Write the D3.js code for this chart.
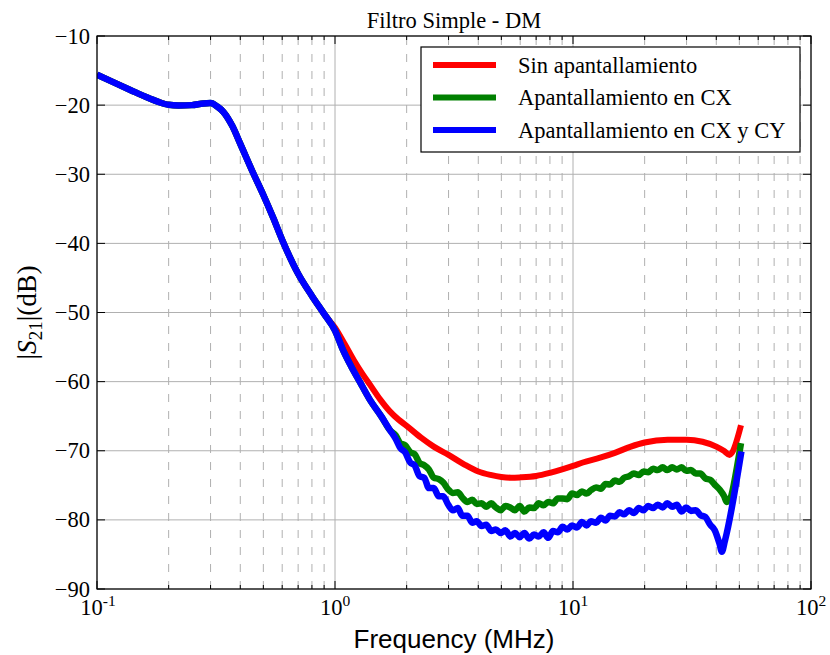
<!DOCTYPE html>
<html>
<head>
<meta charset="utf-8">
<script src="https://cdn.jsdelivr.net/npm/d3@7"></script>
<style>
  html, body { margin: 0; padding: 0; background: #fff; }
  svg { display: block; }
</style>
</head>
<body>
<div id="chart"></div>
<script>
// Measured |S21| of the simple DM filter, in MHz and dB.
// Low-frequency part shared by the three measurements.
const lowFreq = [0.1, 0.12, 0.138, 0.16, 0.18, 0.2, 0.22, 0.25, 0.28, 0.3, 0.32, 0.34, 0.37, 0.4, 0.45, 0.5, 0.55, 0.6, 0.7, 0.8, 0.9];
const lowDb   = [-15.6, -16.85, -17.8, -18.8, -19.5, -19.95, -20.05, -20.0, -19.75, -19.7, -20.2, -21.0, -23.0, -25.6, -29.6, -33.0, -36.3, -39.5, -44.4, -47.6, -50.2];

// Without shielding
const redFreq = [1.0, 1.1, 1.2, 1.3, 1.4, 1.55, 1.7, 1.85, 2.0, 2.3, 2.6, 3.0, 3.5, 4.0, 4.5, 5.0, 5.5, 6.0, 7.0, 8.0, 9.0, 10, 11, 13, 15, 17.5, 20, 25, 30, 35, 40, 43, 45.5, 46.5, 50.8];
const redDb   = [-52.2, -54.6, -56.9, -58.8, -60.4, -62.6, -64.3, -65.5, -66.4, -68.1, -69.4, -70.6, -72.0, -73.0, -73.5, -73.8, -73.9, -73.85, -73.65, -73.2, -72.7, -72.2, -71.7, -71.0, -70.3, -69.4, -68.8, -68.4, -68.4, -68.7, -69.4, -70.0, -70.6, -70.3, -66.3];

// Shielded traces share this stretch before they split
const midFreq = [1.0, 1.08, 1.17, 1.27, 1.4, 1.57, 1.70];
const midDb   = [-52.6, -55.4, -57.8, -60.0, -62.6, -65.1, -67.0];

// Frequency points of the noisy shielded measurements
const noisyFreq = [1.80, 1.88, 1.97, 2.07, 2.16, 2.27, 2.37, 2.48, 2.60, 2.73, 2.85, 2.99, 3.13, 3.28, 3.43, 3.60, 3.77, 3.94, 4.13, 4.32, 4.53, 4.74, 4.97, 5.20, 5.45, 5.70, 5.97, 6.25, 6.55, 6.86, 7.18, 7.52, 7.87, 8.24, 8.63, 9.04, 9.46, 9.91, 10.4, 10.9, 11.4, 11.9, 12.5, 13.1, 13.7, 14.3, 15.0, 15.7, 16.4, 17.2, 18.0, 18.9, 19.8, 20.7, 21.7, 22.7, 23.8, 24.9, 26.1, 27.3, 28.6, 29.9, 31.3, 32.8, 34.3, 36.0, 37.7, 39.4, 41.3];

// Shielding on CX
const cxTailFreq = [43.2, 44.2, 50.8];
const cxDb = [-67.8, -68.9, -69.2, -70.2, -70.5, -71.8, -72.1, -72.7, -73.9, -74.1, -74.6, -75.6, -76.1, -76.0, -76.8, -77.4, -77.1, -77.7, -77.6, -78.1, -77.6, -78.2, -78.6, -78.0, -78.2, -78.6, -78.0, -78.8, -78.2, -78.3, -77.6, -77.9, -77.4, -77.6, -76.9, -76.9, -77.0, -76.2, -76.4, -75.9, -76.2, -75.7, -75.3, -75.5, -74.8, -74.9, -74.3, -74.5, -73.9, -73.7, -73.3, -73.5, -73.0, -73.1, -72.6, -72.8, -72.4, -72.8, -72.4, -72.7, -72.4, -72.9, -72.8, -73.3, -73.3, -74.0, -74.2, -74.9, -75.6, -76.6, -77.4, -68.9];

// Shielding on CX and CY
const cxyTailFreq = [42.2, 43.5, 51.0];
const cxyDb = [-68.3, -69.6, -70.2, -71.7, -72.1, -73.7, -73.9, -75.4, -75.4, -76.6, -76.6, -77.8, -78.6, -78.3, -79.4, -79.4, -80.4, -80.2, -80.9, -80.7, -81.6, -81.4, -81.9, -81.5, -82.4, -81.9, -82.5, -81.9, -82.7, -82.1, -82.4, -81.8, -82.6, -81.6, -81.8, -81.0, -81.4, -80.8, -81.1, -80.3, -80.8, -80.2, -80.4, -79.7, -80.1, -79.4, -79.5, -78.9, -79.2, -78.6, -79.0, -78.3, -78.6, -78.0, -78.3, -77.8, -78.2, -77.6, -78.1, -77.8, -78.8, -78.2, -78.7, -78.6, -79.3, -79.6, -80.7, -81.5, -83.5, -84.6, -83.0, -70.1];

const seriesNames  = ["Sin apantallamiento", "Apantallamiento en CX", "Apantallamiento en CX y CY"];
const seriesColors = ["#ff0000", "#008000", "#0000ff"];

const yTicks = [-90, -80, -70, -60, -50, -40, -30, -20, -10];
const xDecades = [0.1, 1, 10, 100];
const xDecadeExp = ["-1", "0", "1", "2"];

const series = [
  { freq: lowFreq.concat(redFreq), db: lowDb.concat(redDb) },
  { freq: lowFreq.concat(midFreq, noisyFreq, cxTailFreq), db: lowDb.concat(midDb, cxDb) },
  { freq: lowFreq.concat(midFreq, noisyFreq, cxyTailFreq), db: lowDb.concat(midDb, cxyDb) }
].map((s, i) => ({
  name: seriesNames[i],
  color: seriesColors[i],
  width: i === 0 ? 6 : 6.5,
  points: s.freq.map((f, k) => ({ f, v: s.db[k] }))
}));

const W = 830, H = 655;
const M = { left: 97, top: 36, right: 19, bottom: 66 };
const iw = W - M.left - M.right, ih = H - M.top - M.bottom;
const SERIF = "'Liberation Serif', 'Times New Roman', serif";
const SANS = "'Liberation Sans', Arial, sans-serif";

const svg = d3.select("#chart").append("svg")
  .attr("width", W).attr("height", H)
  .attr("viewBox", `0 0 ${W} ${H}`);

const x = d3.scaleLog().domain([0.1, 100]).range([0, iw]);
const y = d3.scaleLinear().domain([-90, -10]).range([ih, 0]);

const g = svg.append("g").attr("transform", `translate(${M.left},${M.top})`);

svg.append("defs").append("clipPath").attr("id", "plotclip")
  .append("rect").attr("x", 0).attr("y", 0).attr("width", iw).attr("height", ih);

// Minor (dashed) and major (solid) grid lines
const minorX = x.ticks().filter(t => !xDecades.some(d => Math.abs(d - t) < 1e-9));
const grid = g.append("g").attr("class", "grid");
grid.selectAll("line.minor").data(minorX).join("line")
  .attr("class", "minor")
  .attr("x1", d => x(d)).attr("x2", d => x(d))
  .attr("y1", ih).attr("y2", 0)
  .attr("stroke", "#b0b0b0").attr("stroke-width", 1)
  .attr("stroke-dasharray", "8,9");
grid.selectAll("line.majx").data(xDecades).join("line")
  .attr("class", "majx")
  .attr("x1", d => x(d)).attr("x2", d => x(d))
  .attr("y1", ih).attr("y2", 0)
  .attr("stroke", "#b0b0b0").attr("stroke-width", 1);
grid.selectAll("line.majy").data(yTicks).join("line")
  .attr("class", "majy")
  .attr("x1", 0).attr("x2", iw)
  .attr("y1", d => y(d)).attr("y2", d => y(d))
  .attr("stroke", "#b0b0b0").attr("stroke-width", 1);

// Data traces
const line = d3.line().x(d => x(d.f)).y(d => y(d.v)).curve(d3.curveMonotoneX);
g.append("g").attr("clip-path", "url(#plotclip)")
  .selectAll("path").data(series).join("path")
  .attr("d", d => line(d.points))
  .attr("fill", "none")
  .attr("stroke", d => d.color)
  .attr("stroke-width", d => d.width)
  .attr("stroke-linejoin", "round")
  .attr("stroke-linecap", "butt");

// Ticks pointing inward on all four sides
const ticks = g.append("g").attr("stroke", "#000").attr("stroke-width", 1);
yTicks.forEach(t => {
  ticks.append("line").attr("x1", 0).attr("x2", 8).attr("y1", y(t)).attr("y2", y(t));
  ticks.append("line").attr("x1", iw).attr("x2", iw - 8).attr("y1", y(t)).attr("y2", y(t));
});
xDecades.forEach(t => {
  ticks.append("line").attr("x1", x(t)).attr("x2", x(t)).attr("y1", ih).attr("y2", ih - 8);
  ticks.append("line").attr("x1", x(t)).attr("x2", x(t)).attr("y1", 0).attr("y2", 8);
});
minorX.forEach(t => {
  ticks.append("line").attr("x1", x(t)).attr("x2", x(t)).attr("y1", ih).attr("y2", ih - 4);
  ticks.append("line").attr("x1", x(t)).attr("x2", x(t)).attr("y1", 0).attr("y2", 4);
});

// Frame
g.append("rect").attr("x", 0).attr("y", 0).attr("width", iw).attr("height", ih)
  .attr("fill", "none").attr("stroke", "#000").attr("stroke-width", 1.2);

// Y tick labels
g.append("g").selectAll("text").data(yTicks).join("text")
  .attr("x", -7).attr("y", d => y(d) + 7.5)
  .attr("text-anchor", "end")
  .attr("font-family", SERIF).attr("font-size", 22.5).attr("fill", "#000")
  .text(d => d < 0 ? "\u2212" + Math.abs(d) : String(d));

// X tick labels as powers of ten
const xl = g.append("g").selectAll("text").data(xDecades).join("text")
  .attr("x", (d, i) => x(d) + (i === 0 ? 1 : 0))
  .attr("y", ih + 26)
  .attr("text-anchor", "middle")
  .attr("font-family", SERIF).attr("font-size", 22.5).attr("fill", "#000");
xl.append("tspan").text("10");
xl.append("tspan").attr("dy", -9).attr("font-size", 15.5).text((d, i) => xDecadeExp[i]);

// Axis titles
svg.append("text")
  .attr("x", M.left + iw / 2).attr("y", 648)
  .attr("text-anchor", "middle")
  .attr("font-family", SANS).attr("font-size", 26).attr("fill", "#000")
  .text("Frequency (MHz)");

const yl = svg.append("text")
  .attr("transform", `translate(36,${M.top + ih / 2}) rotate(-90)`)
  .attr("text-anchor", "middle")
  .attr("font-family", SERIF).attr("font-size", 27.5).attr("fill", "#000");
yl.append("tspan").text("|");
yl.append("tspan").attr("font-style", "italic").text("S");
yl.append("tspan").attr("font-size", 19).attr("dy", 6).text("21");
yl.append("tspan").attr("dy", -6).text("|(dB)");

// Title
svg.append("text")
  .attr("x", M.left + iw / 2).attr("y", 28)
  .attr("text-anchor", "middle")
  .attr("font-family", SERIF).attr("font-size", 22.5).attr("fill", "#000")
  .text("Filtro Simple - DM");

// Legend
const lg = svg.append("g").attr("transform", "translate(421,47)");
lg.append("rect").attr("x", 0).attr("y", 0).attr("width", 379).attr("height", 105)
  .attr("fill", "#fff").attr("stroke", "#000").attr("stroke-width", 1.2);
const items = lg.selectAll("g.item").data(series).join("g")
  .attr("class", "item")
  .attr("transform", (d, i) => `translate(0,${18 + i * 32.5})`);
items.append("line").attr("x1", 12).attr("x2", 75).attr("y1", 0).attr("y2", 0)
  .attr("stroke", d => d.color).attr("stroke-width", 6);
items.append("text").attr("x", 97).attr("y", 7.5)
  .attr("font-family", SERIF).attr("font-size", 22.5).attr("fill", "#000")
  .text(d => d.name);
</script>
</body>
</html>
